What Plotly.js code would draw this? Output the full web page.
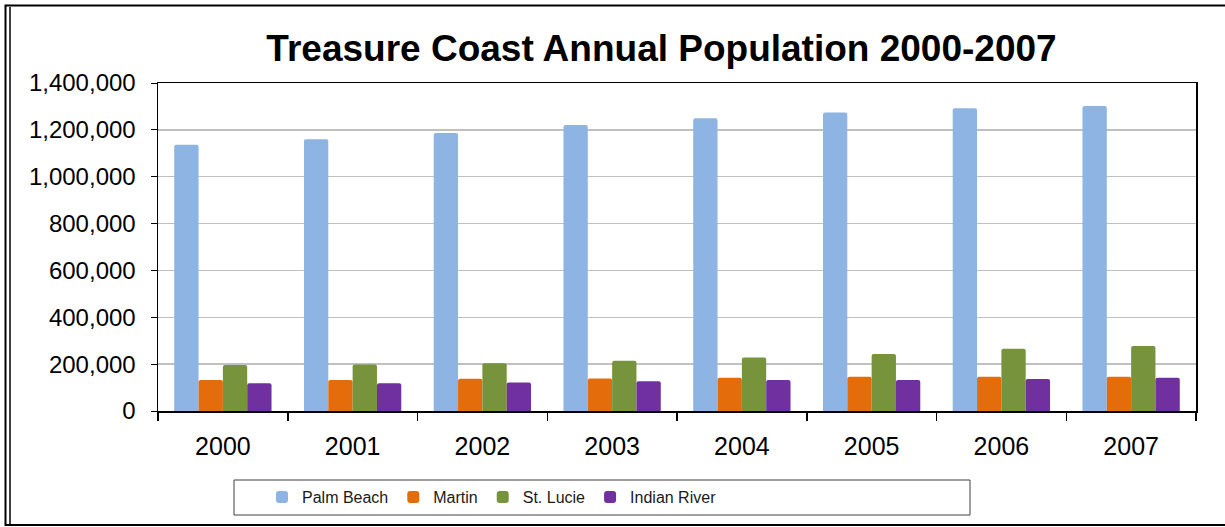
<!DOCTYPE html>
<html>
<head>
<meta charset="utf-8">
<script src="https://cdn.plot.ly/plotly-3.0.1.min.js"></script>
<style>
  html, body { margin: 0; padding: 0; background: #ffffff; }
  #chart { width: 1225px; height: 527px; }
</style>
</head>
<body>
<div id="chart"></div>
<script>
const years = ["2000", "2001", "2002", "2003", "2004", "2005", "2006", "2007"];
const palmBeach = [1136000, 1160000, 1187000, 1221000, 1250000, 1274000, 1292000, 1302000];
const martin = [132000, 132000, 138000, 139000, 142000, 146000, 146000, 146000];
const stLucie = [196000, 199000, 204000, 215000, 228000, 243000, 266000, 277000];
const indianRiver = [118000, 118000, 122000, 127000, 132000, 132000, 137000, 142000];
const seriesNames = ["Palm Beach", "Martin", "St. Lucie", "Indian River"];
const seriesColors = ["#8EB4E3", "#E46C0A", "#77933C", "#7030A0"];
const yTicks = [0, 200000, 400000, 600000, 800000, 1000000, 1200000, 1400000];

const seriesValues = [palmBeach, martin, stLucie, indianRiver];
const traces = seriesValues.map((vals, i) => ({
  type: "bar",
  name: seriesNames[i],
  x: years,
  y: vals,
  marker: { color: seriesColors[i], line: { width: 0 } },
  hoverinfo: "x+y+name"
}));

const W = 1225, H = 527;
const L = 158, R = 1196, T = 83, B = 411;
const pw = R - L, ph = B - T;
const px = x => (x - L) / pw;
const py = y => (B - y) / ph;

const layout = {
  width: W,
  height: H,
  paper_bgcolor: "#ffffff",
  plot_bgcolor: "#ffffff",
  margin: { l: L, r: W - R, t: T, b: H - B, pad: 0 },
  font: { family: "Liberation Sans, Arial, sans-serif", color: "#000000" },
  title: {
    text: "Treasure Coast Annual Population 2000-2007",
    font: { family: "Liberation Sans, Arial, sans-serif", size: 37, weight: "bold", color: "#000000" },
    xref: "container", x: 661.5 / W, xanchor: "center",
    yref: "container", y: 1 - 48.5 / H, yanchor: "middle"
  },
  barmode: "group",
  bargap: 0.25,
  bargroupgap: 0,
  barcornerradius: 2,
  xaxis: {
    type: "category",
    showline: true, linecolor: "#000000", linewidth: 1.5, mirror: true,
    ticks: "outside", ticklen: 8, tickcolor: "#000000", tickwidth: 1.5,
    tickson: "boundaries",
    showgrid: false,
    ticklabelstandoff: 12,
    tickfont: { size: 25, family: "Liberation Sans, Arial, sans-serif", color: "#000000" }
  },
  yaxis: {
    range: [0, 1400000],
    tickvals: yTicks,
    tickformat: ",d",
    showline: true, linecolor: "#000000", linewidth: 1.5, mirror: true,
    ticks: "outside", ticklen: 6, tickcolor: "#000000", tickwidth: 1,
    showgrid: true, gridcolor: "#c0c0c0", gridwidth: 1.5,
    zeroline: false,
    ticklabelstandoff: 10,
    tickfont: { size: 24, family: "Liberation Sans, Arial, sans-serif", color: "#000000" }
  },
  showlegend: true,
  legend: {
    orientation: "h",
    x: px(262), xanchor: "left",
    y: py(497), yanchor: "middle",
    bgcolor: "rgba(0,0,0,0)",
    borderwidth: 0,
    font: { size: 16, family: "Liberation Sans, Arial, sans-serif", color: "#1a1a1a" },
    itemclick: false, itemdoubleclick: false
  },
  shapes: [
    { type: "rect", xref: "paper", yref: "paper",
      x0: px(234), x1: px(970), y0: py(515), y1: py(480),
      line: { color: "#404040", width: 1 }, fillcolor: "rgba(0,0,0,0)", layer: "above" },
    { type: "rect", xref: "paper", yref: "paper",
      x0: px(5.5), x1: px(1260), y0: py(525), y1: py(5.5),
      line: { color: "#000000", width: 2 }, fillcolor: "rgba(0,0,0,0)", layer: "below" },
    { type: "line", xref: "paper", yref: "paper",
      x0: px(10), x1: px(10), y0: py(525), y1: py(7),
      line: { color: "#000000", width: 1.5 } }
  ]
};

Plotly.newPlot("chart", traces, layout, { displayModeBar: false, staticPlot: true });
</script>
</body>
</html>
